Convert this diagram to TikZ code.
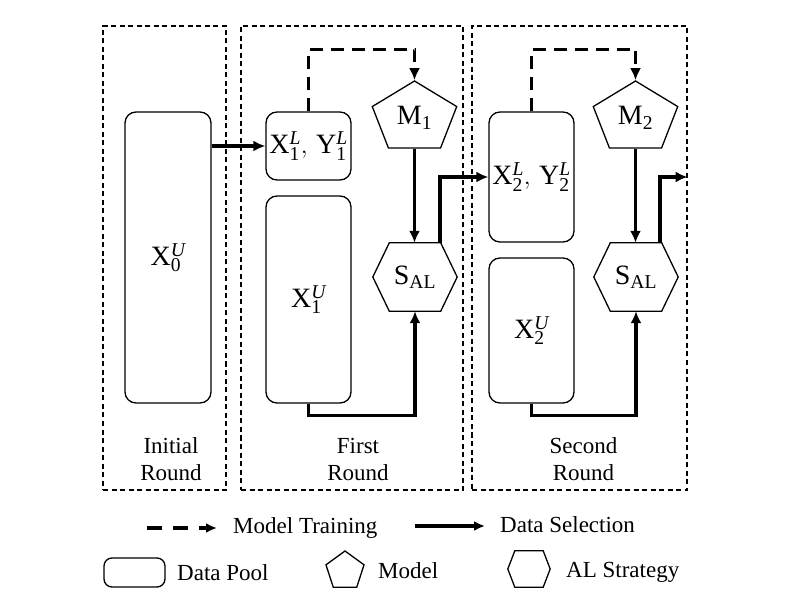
\documentclass[tikz,border=0pt]{standalone}
\usepackage{fontspec}
\setmainfont{Liberation Serif}
\usetikzlibrary{arrows.meta,shapes.geometric,calc}

% Hexagon drawn round a plain node: #1 node name, #2 horizontal cut
\newcommand{\drawhex}[2]{%
    \draw[line width=1.3pt] (#1.west) -- ($(#1.north west)+(#2,0)$) -- ($(#1.north east)+(-#2,0)$)
        -- (#1.east) -- ($(#1.south east)+(-#2,0)$) -- ($(#1.south west)+(#2,0)$) -- cycle;}
% Set symbol: letter, round, U or L
\newcommand{\setsym}[3]{\mathrm{#1}_{\mathrm{#2}}^{\mathit{#3}}}

\begin{document}
\begin{tikzpicture}[x=1pt,y=-1pt,
    poolbox/.style={draw,line width=1.3pt,rounded corners=11pt,inner sep=0pt},
    modelshape/.style={draw,line width=1.3pt,regular polygon,regular polygon sides=5,inner sep=0pt},
    alshape/.style={rectangle,inner sep=0pt},
    roundbox/.style={draw,line width=1.2pt,dash pattern=on 5pt off 3.5pt,inner sep=0pt},
    trainarrow/.style={line width=3.5pt,dash pattern=on 13pt off 8pt,-{Latex[length=12pt,width=11pt]}},
    selarrow/.style={line width=3.5pt,-{Latex[length=12pt,width=11pt]}},
    legtrain/.style={line width=3.3pt,dash pattern=on 15pt off 11pt,-{Latex[length=11pt,width=10pt]}},
    legsel/.style={line width=3.3pt,-{Latex[length=11pt,width=10pt]}},
    mathlbl/.style={font=\fontsize{28}{32}\selectfont},
    roundtext/.style={font=\fontsize{23}{27}\selectfont,align=center,inner sep=0pt}]

    % Fix the size of the page
    \useasboundingbox (0,0) rectangle (796,604);

    % Dashed frames for the three rounds
    \node[roundbox,minimum width=123pt,minimum height=464pt] (rnd0) at (164.5,258) {};
    \node[roundbox,minimum width=222pt,minimum height=464pt] (rnd1) at (352,258) {};
    \node[roundbox,minimum width=215pt,minimum height=464pt] (rnd2) at (579.5,258) {};

    % Data pools
    \node[poolbox,mathlbl,minimum width=86pt,minimum height=291pt] (X0) at (168,257.5) {$\setsym{X}{0}{U}$};
    \node[poolbox,mathlbl,minimum width=85pt,minimum height=68pt] (L1) at (308.5,146) {$\setsym{X}{1}{L},\,\setsym{Y}{1}{L}$};
    \node[poolbox,mathlbl,minimum width=85pt,minimum height=207pt] (U1) at (308.5,299.5) {$\setsym{X}{1}{U}$};
    \node[poolbox,mathlbl,minimum width=85pt,minimum height=130pt] (L2) at (531.5,177) {$\setsym{X}{2}{L},\,\setsym{Y}{2}{L}$};
    \node[poolbox,mathlbl,minimum width=85pt,minimum height=145pt] (U2) at (531.5,330.5) {$\setsym{X}{2}{U}$};

    % Models and AL strategies
    \node[modelshape,mathlbl,minimum size=74pt,xscale=1.2,transform shape] (M1) at (414.5,118) {\scalebox{0.833}[1]{$\mathrm{M}_{\mathrm{1}}$}};
    \node[modelshape,mathlbl,minimum size=74pt,xscale=1.2,transform shape] (M2) at (635.5,118) {\scalebox{0.833}[1]{$\mathrm{M}_{\mathrm{2}}$}};
    \node[alshape,mathlbl,minimum width=84pt,minimum height=68pt] (S1) at (415,277) {$\mathrm{S}_{\mathrm{AL}}$};
    \node[alshape,mathlbl,minimum width=84pt,minimum height=68pt] (S2) at (636,277) {$\mathrm{S}_{\mathrm{AL}}$};
    \drawhex{S1}{16.5}
    \drawhex{S2}{16.5}

    % First round
    \draw[selarrow] (X0.east |- L1.west) -- (L1.west);
    \draw[trainarrow] (L1.north) -- ++(0,-62) -| (M1.north);
    \draw[selarrow] (M1.south) -- (M1.south |- S1.north);
    \draw[selarrow] (U1.south) -- ++(0,12) -| (S1.south);
    \draw[selarrow] ($(S1.north)+(25,0)$) |- (L2.west);

    % Second round
    \draw[trainarrow] (L2.north) -- ++(0,-62) -| (M2.north);
    \draw[selarrow] (M2.south) -- (M2.south |- S2.north);
    \draw[selarrow] (U2.south) -- ++(0,12) -| (S2.south);
    \draw[selarrow] ($(S2.north)+(24,0)$) |- (rnd2.east |- L2.west);

    % Round names
    \node[roundtext] (t0) at (171,459) {Initial\\Round};
    \node[roundtext] (t1) at (358,459) {First\\Round};
    \node[roundtext] (t2) at (583.5,459) {Second\\Round};

    % Legend
    \coordinate (trA) at (147,528);
    \coordinate (trB) at (217,528);
    \draw[legtrain] (trA) -- (trB);
    \node[roundtext,anchor=base west] (trT) at (233,533) {Model Training};
    \coordinate (selA) at (415,526);
    \coordinate (selB) at (485,526);
    \draw[legsel] (selA) -- (selB);
    \node[roundtext,anchor=base west] (selT) at (500,532) {Data Selection};
    \node[poolbox,rounded corners=8pt,minimum width=61pt,minimum height=29pt] (legP) at (134.5,572.5) {};
    \node[roundtext,anchor=base west] (poolT) at (177,580) {Data Pool};
    \node[modelshape,minimum size=40pt] (legM) at (345,571) {};
    \node[roundtext,anchor=base west] (modelT) at (378,578) {Model};
    \node[alshape,minimum width=42pt,minimum height=36pt] (legS) at (529,569) {};
    \drawhex{legS}{7}
    \node[roundtext,anchor=base west] (alT) at (566,577) {AL Strategy};
\end{tikzpicture}
\end{document}
